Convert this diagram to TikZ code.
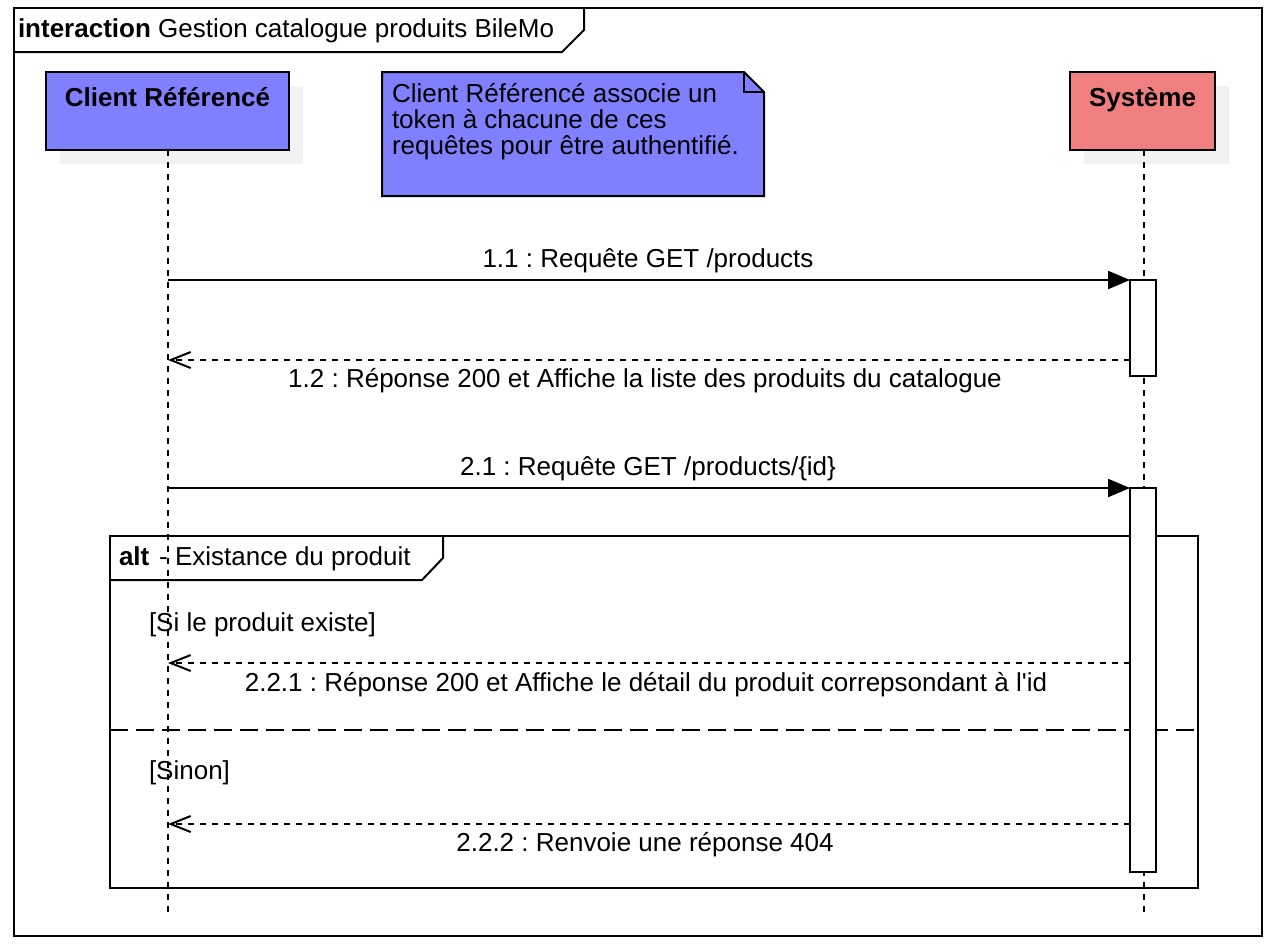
\documentclass[tikz,border=0pt]{standalone}
\usepackage{fontspec}
\setmainfont{Liberation Sans}
\newfontfamily\plainap{Liberation Sans}
\usetikzlibrary{arrows.meta}
\definecolor{actblue}{HTML}{8080FF}
\definecolor{actred}{HTML}{F08080}
\definecolor{shadowgray}{HTML}{F2F2F2}
\begin{document}
\frenchspacing
\begin{tikzpicture}[x=0.75pt,y=-0.75pt,
  every node/.style={font=\fontsize{19.5}{19.5}\selectfont, inner sep=0pt, outer sep=0pt},
  ln/.style={line width=1.5pt},
  life/.style={line width=1.5pt, dash pattern=on 4.5pt off 4.5pt},
  callmsg/.style={line width=1.5pt, -{Triangle[length=16.5pt,width=13.5pt]}},
  replymsg/.style={line width=1.5pt, dash pattern=on 4.5pt off 4.5pt, -{Straight Barb[length=15pt,width=12pt]}},
  sepline/.style={line width=1.5pt, dash pattern=on 13.5pt off 6pt},
  shadowbox/.style={fill=shadowgray, draw=none, minimum width=#1, minimum height=58.5pt},
  actorbox/.style={draw, line width=1.5pt, minimum height=58.5pt},
  actbox/.style={draw, line width=1.5pt, fill=white, minimum width=19.5pt},
  lbl/.style={anchor=base},
  lblw/.style={anchor=base west}
]
\useasboundingbox (0,0) rectangle (1280,950);
% outer interaction frame
\draw[ln] (14,8) rectangle (1262,936);
\draw[ln] (14,52) -- (562,52) -- (584,30) -- (584,8);
\node[lblw] (title) at (18,37) {\textbf{interaction} Gestion catalogue produits BileMo};
% shadows
\node[shadowbox=182.25pt] (clientsh) at (181.5,125) {};
\node[shadowbox=108.75pt] (syssh) at (1156.5,125) {};
% actors
\node[actorbox, fill=actblue, minimum width=182.25pt] (client) at (167.5,111) {};
\node[lbl] (clientlbl) at (167.5,106) {\bfseries Client Référencé};
\node[actorbox, fill=actred, minimum width=108.75pt] (sys) at (1142.5,111) {};
\node[lbl] (syslbl) at (1142.5,106) {\bfseries Système};
% note
\draw[ln, fill=actblue] (382,72) -- (744,72) -- (764,92) -- (764,196) -- (382,196) -- cycle;
\draw[ln] (744,72) -- (744,92) -- (764,92);
\node[lblw] (note1) at (392,102) {Client Référencé associe un};
\node[lblw] (note2) at (392,128) {token à chacune de ces};
\node[lblw] (note3) at (392,154) {requêtes pour être authentifié.};
% alt frame
\draw[ln] (110,536) rectangle (1198,888);
\draw[ln] (110,580) -- (422,580) -- (443,558) -- (443,536);
\node[lblw] (altlbl) at (119,565) {\textbf{alt}\hspace{2pt} - Existance du produit};
\draw[sepline] (110,730) -- (1198,730);
\node[lblw] (guard1) at (149,631) {[Si le produit existe]};
\node[lblw] (guard2) at (149,779) {[Sinon]};
% lifelines
\coordinate (clienttop) at (168,150);
\coordinate (clientend) at (168,915);
\coordinate (systop) at (1144,150);
\coordinate (sysend) at (1144,915);
\draw[life] (clienttop) -- (clientend);
\draw[life] (systop) -- (sysend);
% activations
\node[actbox, minimum height=72pt] (act1) at (1143,328) {};
\node[actbox, minimum height=288pt] (act2) at (1143,680) {};
% lifeline anchor points
\coordinate (c11) at (168,280);
\coordinate (c12) at (168,360);
\coordinate (c21) at (168,488);
\coordinate (c221) at (168,663);
\coordinate (c222) at (168,824);
% messages
\draw[callmsg] (c11) -- (act1.north west);
\node[lbl] (m11) at (648,267) {1.1 : Requête GET /products};
\draw[replymsg] (act1.west |- c12) -- (c12);
\node[lbl] (m12) at (645,387) {1.2 : Réponse 200 et Affiche la liste des produits du catalogue};
\draw[callmsg] (c21) -- (act2.north west);
\node[lbl] (m21) at (648,475) {2.1 : Requête GET /products/\{id\}};
\draw[replymsg] (act2.west |- c221) -- (c221);
\node[lbl] (m221) at (646,691) {2.2.1 : Réponse 200 et Affiche le détail du produit correpsondant à l{\plainap '}id};
\draw[replymsg] (act2.west |- c222) -- (c222);
\node[lbl] (m222) at (645,851) {2.2.2 : Renvoie une réponse 404};
\end{tikzpicture}
\end{document}
